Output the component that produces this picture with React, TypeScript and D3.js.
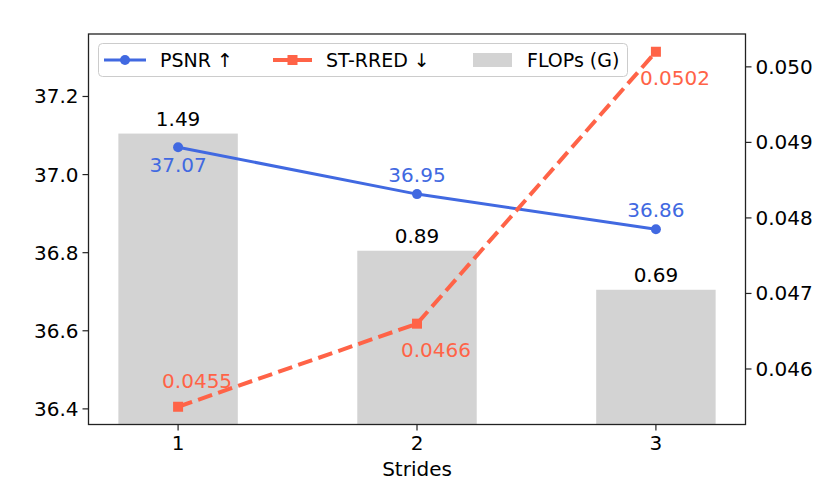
import React from 'react'
import * as d3 from 'd3'

// data
const strides = [1, 2, 3]
const psnr = [37.07, 36.95, 36.86]
const stRred = [0.0455, 0.0466, 0.0502]
const flops = [1.49, 0.89, 0.69]
const leftTicks = [36.4, 36.6, 36.8, 37.0, 37.2]
const rightTicks = [0.046, 0.047, 0.048, 0.049, 0.05]

const BLUE = '#4169e1'
const RED = '#ff6347'
const GRAY = '#d3d3d3'
const FONT = 'DejaVu Sans, sans-serif'

function App() {
  const width = 830
  const height = 481
  const left = 88.5
  const right = 745.5
  const top = 34
  const bottom = 424.5
  const fs = 20

  // scales
  const x = d3.scaleLinear().domain([0.625, 3.375]).range([left, right])
  const yL = d3.scaleLinear().domain([36.36, 37.36]).range([bottom, top])
  const yR = d3.scaleLinear().domain([0.045265, 0.050435]).range([bottom, top])
  const yB = d3.scaleLinear().domain([0, 2.0]).range([bottom, top])
  const barW = x(1.25) - x(0.75)

  const psnrLine = d3
    .line<number>()
    .x((_, i) => x(strides[i]))
    .y(d => yL(d))
  const rredLine = d3
    .line<number>()
    .x((_, i) => x(strides[i]))
    .y(d => yR(d))

  // offsets for the value labels (above / below the point)
  const psnrDy = [18, -19, -19]
  const rredDy = [-26, 26, 26]

  return (
    <svg
      width={width}
      height={height}
      style={{ position: 'absolute', left: 0, top: 0 }}
      fontFamily={FONT}
    >
      <rect width={width} height={height} fill="white" />

      {/* bars */}
      {flops.map((v, i) => (
        <g key={'b' + i}>
          <rect
            x={x(strides[i]) - barW / 2}
            y={yB(v)}
            width={barW}
            height={yB(0) - yB(v)}
            fill={GRAY}
          />
          <text
            x={x(strides[i])}
            y={yB(v) - 8}
            textAnchor="middle"
            fontSize={fs}
            fill="black"
          >
            {v.toFixed(2)}
          </text>
        </g>
      ))}

      {/* PSNR */}
      <path d={psnrLine(psnr) || ''} fill="none" stroke={BLUE} strokeWidth={3} />
      {psnr.map((v, i) => (
        <g key={'p' + i}>
          <circle cx={x(strides[i])} cy={yL(v)} r={5} fill={BLUE} />
          <text
            x={x(strides[i])}
            y={yL(v) + psnrDy[i]}
            dy="0.35em"
            textAnchor="middle"
            fontSize={fs}
            fill={BLUE}
          >
            {v.toFixed(2)}
          </text>
        </g>
      ))}

      {/* ST-RRED */}
      <path
        d={rredLine(stRred) || ''}
        fill="none"
        stroke={RED}
        strokeWidth={4}
        strokeDasharray="14.8 6.4"
      />
      {stRred.map((v, i) => (
        <g key={'r' + i}>
          <rect x={x(strides[i]) - 5} y={yR(v) - 5} width={10} height={10} fill={RED} />
          <text
            x={x(strides[i]) + 19}
            y={yR(v) + rredDy[i]}
            dy="0.35em"
            textAnchor="middle"
            fontSize={fs}
            fill={RED}
          >
            {v.toFixed(4)}
          </text>
        </g>
      ))}

      {/* frame */}
      <rect
        x={left}
        y={top}
        width={right - left}
        height={bottom - top}
        fill="none"
        stroke="#222"
        strokeWidth={1.3}
      />

      {/* left axis */}
      {leftTicks.map(t => (
        <g key={'l' + t}>
          <line x1={left - 6} x2={left} y1={yL(t)} y2={yL(t)} stroke="#222" strokeWidth={1.2} />
          <text x={left - 10} y={yL(t)} dy="0.35em" textAnchor="end" fontSize={fs}>
            {t.toFixed(1)}
          </text>
        </g>
      ))}

      {/* right axis */}
      {rightTicks.map(t => (
        <g key={'r' + t}>
          <line x1={right} x2={right + 6} y1={yR(t)} y2={yR(t)} stroke="#222" strokeWidth={1.2} />
          <text x={right + 10} y={yR(t)} dy="0.35em" textAnchor="start" fontSize={fs}>
            {t.toFixed(3)}
          </text>
        </g>
      ))}

      {/* x axis */}
      {strides.map(s => (
        <g key={'x' + s}>
          <line x1={x(s)} x2={x(s)} y1={bottom} y2={bottom + 6} stroke="#222" strokeWidth={1.2} />
          <text x={x(s)} y={bottom + 25} textAnchor="middle" fontSize={fs}>
            {s}
          </text>
        </g>
      ))}
      <text x={(left + right) / 2} y={476} textAnchor="middle" fontSize={fs}>
        Strides
      </text>

      {/* legend */}
      <g>
        <rect
          x={98.5}
          y={43.5}
          width={529}
          height={33}
          rx={4}
          fill="white"
          fillOpacity={0.8}
          stroke="#cccccc"
        />
        <line x1={104} x2={146} y1={60} y2={60} stroke={BLUE} strokeWidth={3} />
        <circle cx={125} cy={60} r={5} fill={BLUE} />
        <text x={160} y={60} dy="0.35em" fontSize={19}>
          PSNR ↑
        </text>
        <line x1={273} x2={312} y1={60} y2={60} stroke={RED} strokeWidth={4} />
        <rect x={287.5} y={55} width={10} height={10} fill={RED} />
        <text x={326} y={60} dy="0.35em" fontSize={19}>
          ST-RRED ↓
        </text>
        <rect x={473} y={53} width={39} height={14} fill={GRAY} />
        <text x={527} y={60} dy="0.35em" fontSize={19}>
          FLOPs (G)
        </text>
      </g>
    </svg>
  )
}

export default App
